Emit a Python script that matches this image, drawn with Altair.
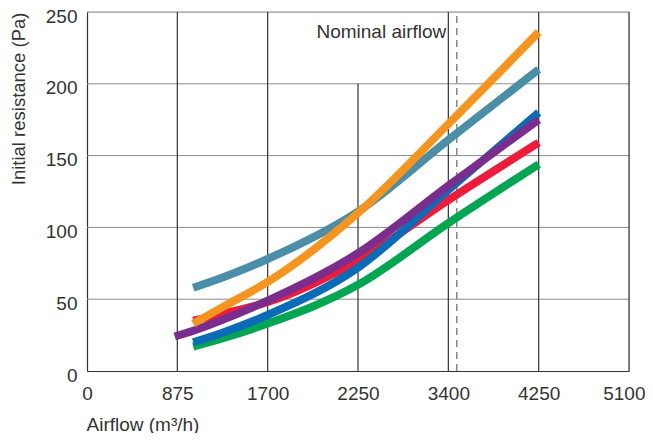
import altair as alt
import pandas as pd

# ---- data ----
x_ticks = [0, 875, 1700, 2250, 3400, 4250, 5100]
y_ticks = [0, 50, 100, 150, 200, 250]

airflow_a = [1020, 1300, 1700, 2250, 3400, 4250]
airflow_purple = [850, 1020, 1300, 1700, 2250, 3400, 4250]

teal = [58, 65.5, 78, 111, 161, 210]
orange = [33, 45, 62, 110, 172, 236]
red = [35, 40, 48, 77, 119, 159]
blue = [20, 27, 39, 72, 126, 180]
green = [17, 23, 33, 60, 103, 144]
purple = [24, 28, 36, 49, 82, 129, 175]

series_names = ["green", "red", "blue", "purple", "teal", "orange"]
series_colors = ["#00A651", "#EE1C3A", "#0A6BB7", "#7B2D8E", "#4A8EA8", "#F7941D"]

nominal_airflow = 3480
full_grid_x = [875, 1700, 3400, 4250, 5100]
short_grid_x = [2250]
short_grid_top = 200
grid_y = [50, 100, 150, 200, 250]

rows = []
for name, xs, ys in [
    ("teal", airflow_a, teal),
    ("orange", airflow_a, orange),
    ("red", airflow_a, red),
    ("blue", airflow_a, blue),
    ("green", airflow_a, green),
    ("purple", airflow_purple, purple),
]:
    for xv, yv in zip(xs, ys):
        rows.append({"series": name, "airflow": xv, "pa": yv})
df = pd.DataFrame(rows)

W, H = 542, 359
step = W / (len(x_ticks) - 1)
xscale = alt.Scale(domain=x_ticks, range=[i * step for i in range(len(x_ticks))])
yscale = alt.Scale(domain=[0, 250])

FONT = "Liberation Sans"
TXT = "#333333"

base = alt.Chart(df)

# grid
hgrid = alt.Chart(pd.DataFrame({"y": grid_y})).mark_rule(color="#8a8a8a", strokeWidth=1).encode(
    y=alt.Y("y:Q", scale=yscale)
)
vgrid = alt.Chart(pd.DataFrame({"x": full_grid_x, "y0": 0, "y1": 250})).mark_rule(
    color="#333333", strokeWidth=1.2
).encode(
    x=alt.X("x:Q", scale=xscale),
    y=alt.Y("y0:Q", scale=yscale),
    y2="y1:Q",
)
vgrid_short = alt.Chart(pd.DataFrame({"x": short_grid_x, "y0": 0, "y1": short_grid_top})).mark_rule(
    color="#333333", strokeWidth=1.2
).encode(
    x=alt.X("x:Q", scale=xscale),
    y=alt.Y("y0:Q", scale=yscale),
    y2="y1:Q",
)
dashed = alt.Chart(pd.DataFrame({"x": [nominal_airflow], "y0": 0, "y1": 250})).mark_rule(
    color="#666666", strokeWidth=1.2, strokeDash=[7, 5]
).encode(
    x=alt.X("x:Q", scale=xscale),
    y=alt.Y("y0:Q", scale=yscale),
    y2="y1:Q",
)
label = alt.Chart(pd.DataFrame({"x": [3400], "y": [250], "t": ["Nominal airflow"]})).mark_text(
    align="right", baseline="alphabetic", dx=-2, dy=26, font=FONT, fontSize=19, color=TXT
).encode(
    x=alt.X("x:Q", scale=xscale),
    y=alt.Y("y:Q", scale=yscale),
    text="t:N",
)

last_tick = x_ticks[-1]

lines = []
for name, col in zip(series_names, series_colors):
    lines.append(
        base.transform_filter(alt.datum.series == name)
        .mark_line(color=col, strokeWidth=8, strokeCap="butt", interpolate="monotone")
        .encode(
            x=alt.X(
                "airflow:Q",
                scale=xscale,
                axis=alt.Axis(
                    values=x_ticks,
                    format="d",
                    title="Airflow (m³/h)",
                    titleAnchor="start",
                    titleAlign="left",
                    titleBaseline="middle",
                    titleX=-1,
                    titleY=53,
                    labelPadding=13,
                    labelAlign=alt.ExprRef(expr=f"datum.value == {last_tick} ? 'right' : 'center'"),
                    labelOffset=alt.ExprRef(expr=f"datum.value == {last_tick} ? 16 : 0"),
                    tickSize=0,
                    grid=False,
                    domainColor="#333333",
                    domainWidth=1.2,
                    labelFont=FONT,
                    labelFontSize=19,
                    labelColor=TXT,
                    titleFont=FONT,
                    titleFontSize=19,
                    titleFontWeight="normal",
                    titleColor=TXT,
                    labelFlush=False,
                ),
            ),
            y=alt.Y(
                "pa:Q",
                scale=yscale,
                axis=alt.Axis(
                    values=y_ticks,
                    format="d",
                    title="Initial resistance (Pa)",
                    titleAngle=-90,
                    titleAlign="right",
                    titleBaseline="middle",
                    titleX=-69,
                    titleY=0,
                    labelPadding=10,
                    labelOffset=4,
                    tickSize=0,
                    grid=False,
                    domainColor="#333333",
                    domainWidth=1.2,
                    labelFont=FONT,
                    labelFontSize=19,
                    labelColor=TXT,
                    titleFont=FONT,
                    titleFontSize=18.5,
                    titleFontWeight="normal",
                    titleColor=TXT,
                    labelFlush=False,
                ),
            ),
        )
    )

chart = alt.layer(hgrid, vgrid, vgrid_short, dashed, label, *lines).properties(
    width=W,
    height=H,
    autosize=alt.AutoSizeParams(type="none"),
    padding={"left": 79, "top": 4, "right": 16, "bottom": 62},
).configure_view(stroke=None).configure(background="white")

chart.save("out.html", embed_options={"renderer": "svg", "actions": False})
